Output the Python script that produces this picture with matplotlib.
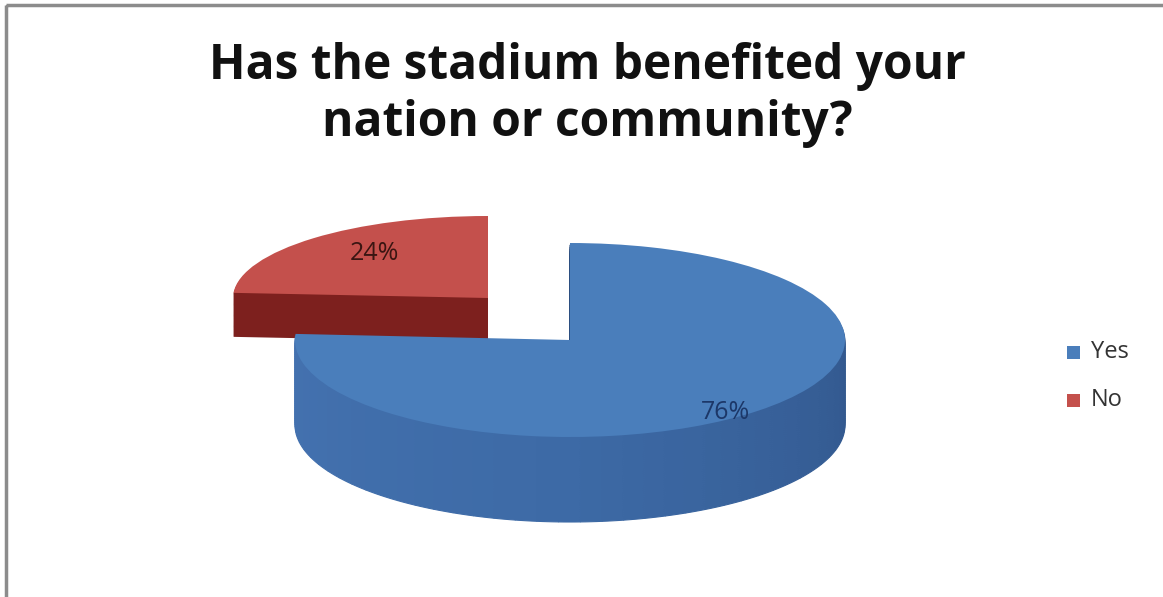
import matplotlib
matplotlib.use("Agg")
import matplotlib.pyplot as plt
from matplotlib.patches import Rectangle
from matplotlib.colors import LinearSegmentedColormap

title = "Has the stadium benefited your\nnation or community?"
categories = ["Yes", "No"]
values = [76, 24]
colors_top = ["#4a7ebb", "#c4504c"]
colors_side = ["#3b659c", "#7d201e"]
label_colors = ["#1c3768", "#3a1512"]

W, H = 1163, 597
fig = plt.figure(figsize=(W / 100, H / 100), dpi=100)
fig.patch.set_facecolor("white")


def make_ax(z):
    ax = fig.add_axes([0, 0, 1, 1], zorder=z)
    ax.patch.set_alpha(0)
    return ax


def setup(ax, geom):
    # unit radius mapped to an ellipse of rx x ry pixels centred at (cx, cy)
    cx, cy, rx, ry = geom
    ax.set_aspect("auto")
    ax.set_xlim((0 - cx) / rx, (W - cx) / rx)
    ax.set_ylim((cy - H) / ry, cy / ry)
    ax.axis("off")


n_layers = 40

# --- No slice (exploded, behind) ---
g_no = (488, 298, 255, 82)
ax_no = make_ax(1)
depth_no = 44
for i in range(n_layers, 0, -1):
    d = depth_no * i / n_layers / g_no[3]
    ax_no.pie([values[1], values[0]], colors=[colors_side[1], "none"],
              startangle=90, counterclock=True, radius=1, center=(0, -d),
              wedgeprops=dict(linewidth=0))
ax_no.pie([values[1], values[0]], colors=[colors_top[1], "none"],
          startangle=90, counterclock=True, radius=1, center=(0, 0),
          wedgeprops=dict(linewidth=0))
setup(ax_no, g_no)
ax_no.text((374 - 488) / 255, (298 - 254) / 82, f"{values[1]}%", ha="center", va="center",
           fontsize=18, color=label_colors[1], family="Open Sans")

# --- Yes slice ---
g_yes = (570, 340, 275, 97)
ax_yes = make_ax(2)
depth_yes = 85
# side shading: the Yes share split into thin pieces, lighter on the left, darker on the right
n_shade = 60
side_cmap = LinearSegmentedColormap.from_list(
    "side", ["#2b4e80", "#33598f", "#3d6aa6", "#4472b0"])
shade_vals = [values[0] / n_shade] * n_shade + [values[1]]
shade_cols = [side_cmap(k / (n_shade - 1)) for k in range(n_shade)] + ["none"]
for i in range(n_layers, 0, -1):
    d = depth_yes * i / n_layers / g_yes[3]
    wedges, _ = ax_yes.pie(shade_vals, colors=shade_cols,
                           startangle=90, counterclock=False, radius=1, center=(0, -d),
                           wedgeprops=dict(linewidth=0.8))
    for w, c in zip(wedges, shade_cols):
        w.set_edgecolor(c)
ax_yes.pie([values[0], values[1]], colors=[colors_top[0], "none"],
           startangle=90, counterclock=False, radius=1, center=(0, 0),
           wedgeprops=dict(linewidth=0))
setup(ax_yes, g_yes)
ax_yes.text((725 - 570) / 275, (340 - 413) / 97, f"{values[0]}%", ha="center", va="center",
            fontsize=18, color=label_colors[0], family="Open Sans")

# --- overlay axes in pixel coords for title, legend, border ---
ov = fig.add_axes([0, 0, 1, 1], zorder=5)
ov.patch.set_alpha(0)
ov.set_xlim(0, W)
ov.set_ylim(H, 0)
ov.axis("off")
ov.text(587, 95, title, ha="center", va="center", fontsize=34.5, fontweight="bold",
        family="Open Sans", color="#111111", linespacing=1.22)

leg_y = [352, 400]
for cat, col, y in zip(categories, colors_top, leg_y):
    ov.add_patch(Rectangle((1067, y - 6), 13, 13, facecolor=col, edgecolor="none"))
    ov.text(1091, y, cat, ha="left", va="center", fontsize=17, family="Open Sans",
            color="#333333")

ov.add_patch(Rectangle((6, 5), W + 10, H + 10, facecolor="none",
                       edgecolor="#8c8c8c", linewidth=2.5))

fig.savefig("out.png", dpi=100, facecolor="white")
